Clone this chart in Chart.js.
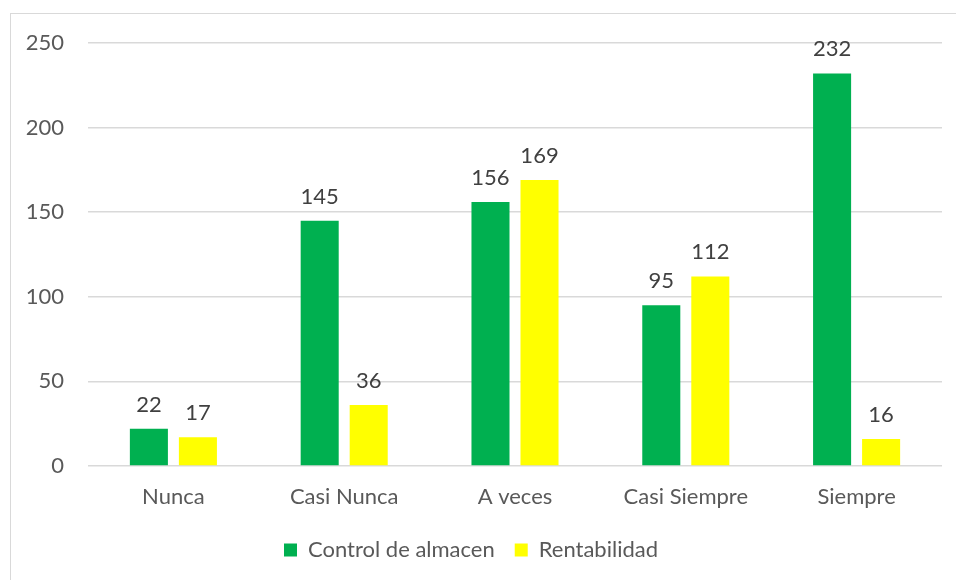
<!DOCTYPE html>
<html><head><meta charset="utf-8">
<script src="https://cdn.jsdelivr.net/npm/chart.js@4/dist/chart.umd.min.js"></script>
<style>
html,body{margin:0;padding:0;background:#fff;overflow:hidden}
#wrap{position:relative;width:956px;height:580px}
#frame{position:absolute;left:10px;top:13px;width:960px;height:600px;border:1px solid #d9d9d9;pointer-events:none}
canvas{position:absolute;left:0;top:0}
</style></head><body>
<div id="wrap"><canvas id="c" width="956" height="580"></canvas><div id="frame"></div></div>
<script>
const categories = ["Nunca", "Casi Nunca", "A veces", "Casi Siempre", "Siempre"];
const controlAlmacen = [22, 145, 156, 95, 232];
const rentabilidad = [17, 36, 169, 112, 16];
const yTicks = [0, 50, 100, 150, 200, 250];

const FONT = "Lato, 'Open Sans', sans-serif";
const TXT = "#595959";
const FS = 22;

const labelPlugin = {
  id: 'vlabels',
  afterDatasetsDraw(chart) {
    const ctx = chart.ctx;
    ctx.save();
    ctx.font = FS + "px " + FONT;
    ctx.fillStyle = "#404040";
    ctx.textAlign = "center";
    ctx.textBaseline = "alphabetic";
    chart.data.datasets.forEach((ds, i) => {
      chart.getDatasetMeta(i).data.forEach((bar, j) => {
        ctx.fillText(String(ds.data[j]), bar.x, bar.y - 17);
      });
    });
    ctx.restore();
  }
};

new Chart(document.getElementById('c'), {
  type: 'bar',
  data: {
    labels: categories,
    datasets: [
      {label: "Control de almacen", data: controlAlmacen, backgroundColor: "#00B050"},
      {label: "Rentabilidad", data: rentabilidad, backgroundColor: "#FFFF00"}
    ]
  },
  options: {
    responsive: false,
    animation: false,
    devicePixelRatio: 1,
    categoryPercentage: 0.574,
    barPercentage: 0.776,
    layout: {padding: {left: 0, right: 14, top: 43, bottom: 9}},
    plugins: {
      tooltip: {enabled: false},
      legend: {
        position: 'bottom',
        labels: {font: {family: FONT, size: FS}, color: TXT, boxWidth: 13, boxHeight: 13, padding: 20}
      }
    },
    scales: {
      x: {
        grid: {display: false, drawTicks: false},
        border: {display: false},
        ticks: {font: {family: FONT, size: FS}, color: TXT, padding: 18},
        afterFit(s) { s.height = 53; }
      },
      y: {
        min: 0, max: 250,
        afterBuildTicks(s) { s.ticks = yTicks.map(v => ({value: v})); },
        grid: {color: "#d9d9d9", lineWidth: 1.5, drawTicks: false},
        border: {display: false},
        ticks: {font: {family: FONT, size: FS}, color: TXT, padding: 24},
        afterFit(s) { s.width = 88; }
      }
    }
  },
  plugins: [labelPlugin]
});
</script>
</body></html>
